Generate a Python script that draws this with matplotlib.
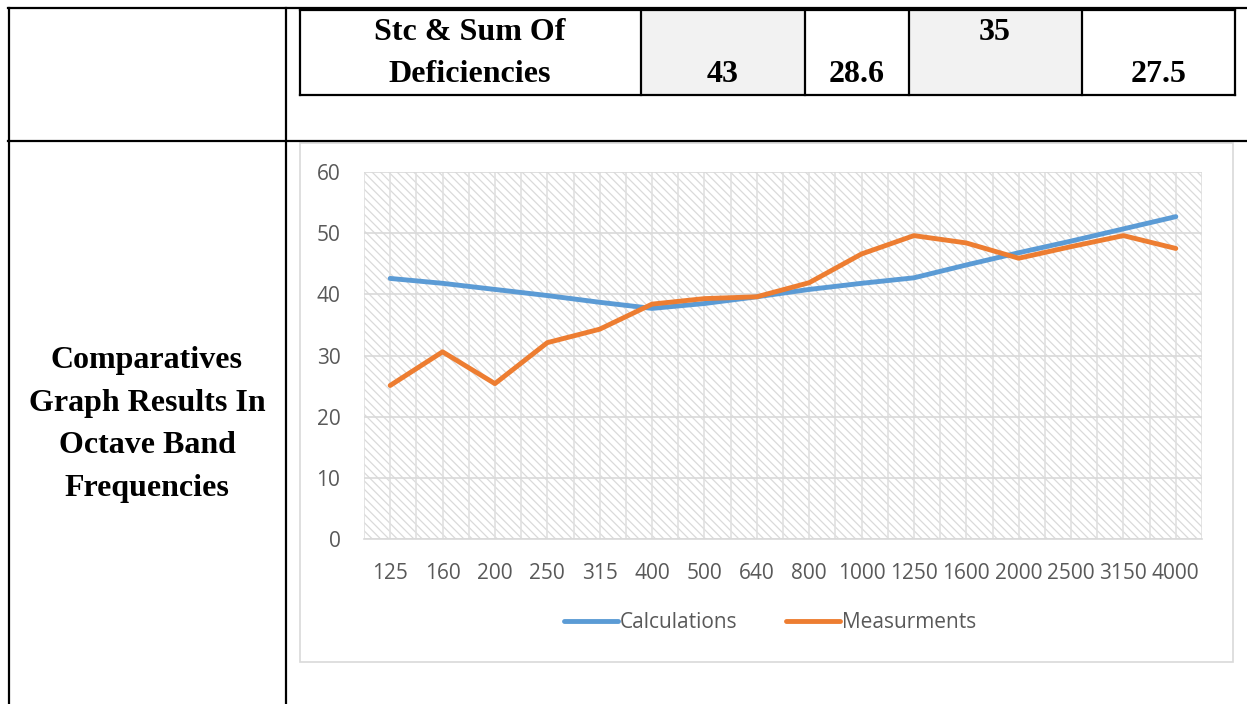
import matplotlib
matplotlib.use('Agg')
import matplotlib.pyplot as plt
from matplotlib.lines import Line2D
from matplotlib.patches import Rectangle

# data
freqs = ['125', '160', '200', '250', '315', '400', '500', '640', '800', '1000',
         '1250', '1600', '2000', '2500', '3150', '4000']
calculations = [42.6, 41.8, 40.8, 39.8, 38.7, 37.7, 38.5, 39.6, 40.8, 41.8,
                42.7, 44.8, 46.8, 48.7, 50.7, 52.7]
measurments = [25.1, 30.6, 25.4, 32.1, 34.3, 38.4, 39.3, 39.6, 41.9, 46.6,
               49.6, 48.4, 45.9, 47.8, 49.6, 47.5]
row_values = ['43', '28.6', '35', '27.5']
side_label = 'Comparatives\nGraph Results In\nOctave Band\nFrequencies'

W, H = 1247, 704
fig = plt.figure(figsize=(W / 100, H / 100), dpi=100)


def fx(x):
    return x / W


def fy(y):
    return 1 - y / H


def hline(x0, x1, y, lw=1.6, color='black'):
    fig.add_artist(Line2D([fx(x0), fx(x1)], [fy(y), fy(y)], color=color, lw=lw))


def vline(x, y0, y1, lw=1.6, color='black'):
    fig.add_artist(Line2D([fx(x), fx(x)], [fy(y0), fy(y1)], color=color, lw=lw))


# shaded cells of the small table
for x0, x1 in [(641, 805), (909, 1082)]:
    fig.add_artist(Rectangle((fx(x0), fy(95)), fx(x1) - fx(x0), fy(9) - fy(95),
                             facecolor='#f2f2f2', edgecolor='none', zorder=-1))

# outer table
hline(8, W, 8)
hline(8, W, 141)
vline(8.5, 8, H)
vline(286, 8, H)

# inner table
hline(300, 1235, 9.5)
hline(300, 1235, 95)
for x in [300, 641, 805, 909, 1082, 1235]:
    vline(x, 9, 95)

serif = dict(family='Liberation Serif', weight='bold', fontsize=23, color='black')
fig.text(fx(470), fy(33), 'Stc & Sum Of', ha='center', va='center', **serif)
fig.text(fx(470), fy(74), 'Deficiencies', ha='center', va='center', **serif)
fig.text(fx(723), fy(74), row_values[0], ha='center', va='center', **serif)
fig.text(fx(857), fy(74), row_values[1], ha='center', va='center', **serif)
fig.text(fx(995), fy(33), row_values[2], ha='center', va='center', **serif)
fig.text(fx(1159), fy(74), row_values[3], ha='center', va='center', **serif)
fig.text(fx(147), fy(424.5), side_label, ha='center', va='center',
         linespacing=1.62, **serif)

# chart frame
fig.add_artist(Rectangle((fx(300), fy(662)), fx(1233) - fx(300), fy(143) - fy(662),
                         facecolor='white', edgecolor='#d9d9d9', lw=1.2, zorder=-1))

ax = fig.add_axes([fx(364), fy(539), fx(1202) - fx(364), fy(172) - fy(539)])
ax.set_zorder(3)
plt.rcParams['hatch.linewidth'] = 0.9
ax.add_patch(Rectangle((0, 0), 1, 1, transform=ax.transAxes, facecolor='white',
                       edgecolor='#dadada', hatch='\\\\\\\\', lw=0, zorder=0))
ax.set_facecolor('white')

x = list(range(len(freqs)))
ax.plot(x, calculations, color='#5b9bd5', lw=3.5, solid_capstyle='round',
        label='Calculations', zorder=3)
ax.plot(x, measurments, color='#ed7d31', lw=3.5, solid_capstyle='round',
        label='Measurments', zorder=4)

ax.set_xlim(-0.5, len(freqs) - 0.5)
ax.set_ylim(0, 60)
ax.set_yticks(range(0, 61, 10))
ax.set_xticks(x)
ax.set_xticklabels(freqs)
ax.set_xticks([i - 0.5 for i in range(len(freqs) + 1)], minor=True)
ax.grid(axis='y', which='major', color='#d9d9d9', lw=1.2, zorder=1)
ax.grid(axis='x', which='both', color='#e0e0e0', lw=1.2, zorder=1)
ax.set_axisbelow(True)
for s in ['top', 'right', 'left']:
    ax.spines[s].set_visible(False)
ax.spines['bottom'].set_color('#d9d9d9')
ax.spines['bottom'].set_linewidth(1.2)
ax.tick_params(which='both', length=0)
ax.tick_params(axis='y', pad=17, labelsize=15, labelcolor='#595959')
ax.tick_params(axis='x', pad=17, labelsize=15, labelcolor='#595959')
for lab in ax.get_xticklabels() + ax.get_yticklabels():
    lab.set_family('Open Sans')

leg = fig.legend(loc='center', bbox_to_anchor=(fx(770), fy(623)), ncol=2, frameon=False,
                 prop={'family': 'Open Sans', 'size': 15}, handlelength=2.6,
                 handletextpad=0.1, columnspacing=2.3)
leg.set_zorder(4)
for t in leg.get_texts():
    t.set_color('#595959')

fig.savefig('out.png', dpi=100)
